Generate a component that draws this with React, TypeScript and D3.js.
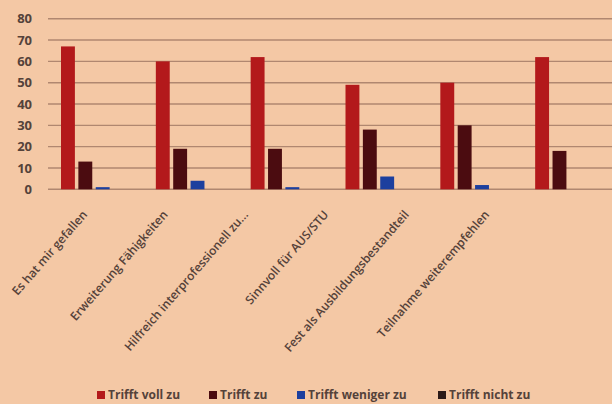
import React from 'react';
import * as d3 from 'd3';

// Categories (x axis) and series
const categories = [
  'Es hat mir gefallen',
  'Erweiterung Fähigkeiten',
  'Hilfreich interprofessionell zu...',
  'Sinnvoll für AUS/STU',
  'Fest als Ausbildungsbestandteil',
  'Teilnahme weiterempfehlen',
];
const seriesNames = ['Trifft voll zu', 'Trifft zu', 'Trifft weniger zu', 'Trifft nicht zu'];
const trifftVollZu = [67, 60, 62, 49, 50, 62];
const trifftZu = [13, 19, 19, 28, 30, 18];
const trifftWenigerZu = [1, 4, 1, 6, 2, 0];
const trifftNichtZu = [0, 0, 0, 0, 0, 0];
const yTicks = [0, 10, 20, 30, 40, 50, 60, 70, 80];

const seriesValues = [trifftVollZu, trifftZu, trifftWenigerZu, trifftNichtZu];
const colors = ['#b3191b', '#4b0c10', '#1c3f9e', '#2b1a18'];

const W = 612;
const H = 404;
const bg = '#f4c8a5';
const textColor = '#54423a';
const font = '"Open Sans", sans-serif';

export default function App() {
  const x0 = d3.scaleBand<string>().domain(categories).range([46, 615]).paddingInner(0).paddingOuter(0);
  const x1 = d3.scaleBand<string>().domain(seriesNames).range([15, 81]).paddingInner(0.2).paddingOuter(0);
  const y = d3.scaleLinear().domain([0, 80]).range([189.3, 18.7]);
  // label anchors sit at a slightly tighter spacing than the bars (photo perspective)
  const xLabel = d3.scalePoint<string>().domain(categories).range([88, 490]);
  const legendX = [97, 209, 297, 438];

  return (
    <div style={{ position: 'absolute', left: 0, top: 0, width: W, height: H, background: bg }}>
      <svg width={W} height={H} style={{ display: 'block' }} fontFamily={font}>
        <rect width={W} height={H} fill={bg} />
        {/* gridlines + y ticks */}
        {yTicks.map((t) => (
          <g key={t}>
            <line x1={48} x2={612} y1={y(t)} y2={y(t)} stroke="#b08770" strokeWidth={1.4} />
            <text x={32} y={y(t)} dy="0.35em" textAnchor="end" fontSize={13} fontWeight={700} fill={textColor}>
              {t}
            </text>
          </g>
        ))}
        {/* bars */}
        {categories.map((c, i) => (
          <g key={c} transform={`translate(${x0(c)},0)`}>
            {seriesNames.map((s, j) => {
              const v = seriesValues[j][i];
              if (!v) return null;
              return (
                <rect
                  key={s}
                  x={x1(s)}
                  y={y(v)}
                  width={x1.bandwidth()}
                  height={y(0) - y(v)}
                  fill={colors[j]}
                />
              );
            })}
          </g>
        ))}
        {/* category labels */}
        {categories.map((c) => (
          <text
            key={c}
            transform={`translate(${xLabel(c)},215) rotate(-49)`}
            textAnchor="end"
            fontSize={12}
            fontWeight={600}
            fill={textColor}
          >
            {c}
          </text>
        ))}
        {/* legend */}
        {seriesNames.map((s, j) => (
          <g key={s} transform={`translate(${legendX[j]},395)`}>
            <rect x={0} y={-4} width={8} height={8} fill={colors[j]} />
            <text x={11} y={0} dy="0.35em" fontSize={12} fontWeight={700} fill={textColor}>
              {s}
            </text>
          </g>
        ))}
      </svg>
    </div>
  );
}
